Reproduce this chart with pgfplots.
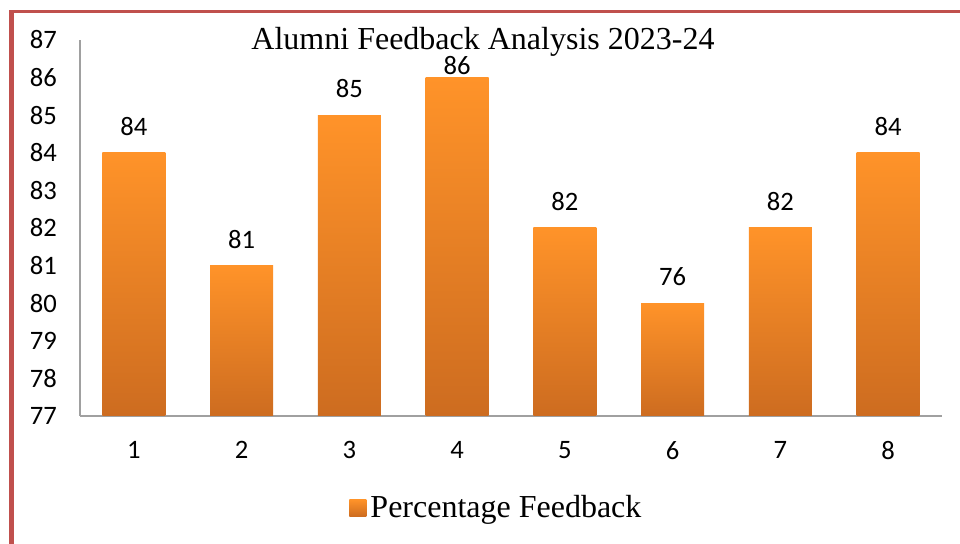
\documentclass[border=0pt]{standalone}
\usepackage{fontspec}
\setmainfont{Liberation Serif}
\newfontfamily\calfont{Carlito}
\usepackage{pgfplots}
\usepackage{pgfplotstable}
\pgfplotsset{compat=1.18}
\definecolor{framered}{RGB}{192,80,77}
\definecolor{bartop}{RGB}{255,147,41}
\definecolor{barbot}{RGB}{205,108,32}
\definecolor{axgray}{RGB}{160,160,160}

% bar heights as drawn, and the labels printed above them (bar 6 says 76)
\pgfplotstableread{
x y lab
1 84 84
2 81 81
3 85 85
4 86 86
5 82 82
6 80 76
7 82 82
8 84 84
}\feedback

\begin{document}
\begin{tikzpicture}
\useasboundingbox (0,0) rectangle (480pt,272pt);
\draw[framered, line width=2.5pt] (5.75pt,0) -- (5.75pt,267pt);
\draw[framered, line width=1.75pt] (4.5pt,266.15pt) -- (480pt,266.15pt);
\begin{axis}[
  at={(40pt,64pt)}, anchor=south west,
  scale only axis, width=431pt, height=188pt,
  ybar, bar width=31.5pt, bar shift=0pt,
  xmin=0.5, xmax=8.5, ymin=77, ymax=87,
  y coord trafo/.code={\pgfmathparse{#1-77}},
  y coord inv trafo/.code={\pgfmathparse{#1+77}},
  xtick={1,...,8}, ytick={77,...,87},
  yticklabels={77,78,79,80,81,82,83,84,85,86,87},
  axis x line*=bottom, axis y line*=left,
  axis line style={axgray, line width=0.9pt, -},
  major tick length=0pt,
  /pgf/number format/assume math mode=true,
  ticklabel style={font=\calfont\fontsize{13.3}{16}\selectfont},
  yticklabel style={anchor=east, xshift=-8pt},
  xticklabel style={yshift=-9pt},
  legend style={at={(0.4843,-0.2447)}, anchor=center, draw=none, fill=none,
    font=\fontsize{16}{19}\selectfont, inner sep=0pt},
]
% one plot per bar so that every bar gets its own top-to-bottom gradient
\pgfplotsinvokeforeach{1,...,8}{
\addplot[forget plot, draw=none, top color=bartop, bottom color=barbot,
  restrict x to domain=#1:#1,
  nodes near coords, point meta=explicit symbolic,
  nodes near coords style={font=\calfont\fontsize{13.3}{16}\selectfont, anchor=south,
    yshift={ifthenelse(\pgfplotspointmeta>85.5,-2,5)*1pt}}]
  table[x=x, y=y, meta=lab] {\feedback};
}
\addlegendimage{legend image code/.code={\path[draw=none, top color=bartop, bottom color=barbot] (-1.5pt,-4.25pt) rectangle (7pt,4.25pt);}}
\addlegendentry{Percentage Feedback}
\end{axis}
\node[font=\fontsize{16}{19}\selectfont, anchor=base] at (241.5pt,247pt) {Alumni Feedback Analysis 2023-24};
\end{tikzpicture}
\end{document}
